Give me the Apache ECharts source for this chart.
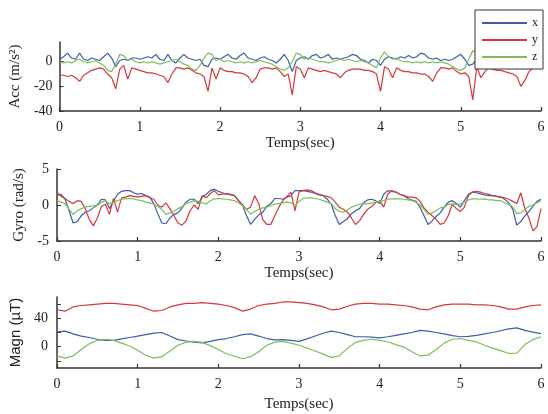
<!DOCTYPE html>
<html>
<head>
<meta charset="utf-8">
<script src="https://cdn.jsdelivr.net/npm/echarts@6/dist/echarts.min.js"></script>
<style>html,body{margin:0;padding:0;background:#fff}#c{width:548px;height:414px}</style>
</head>
<body>
<div id="c"></div>
<script>
// ---- data ----
const xTicks = [0, 1, 2, 3, 4, 5, 6];
const accTicks = [-40, -20, 0];
const gyroTicks = [-5, 0, 5];
const magnTicks = [-20, 0, 20, 40, 60];
const magnLabels = [0, 40];
const seriesNames = ['x', 'y', 'z'];

// sampling steps (seconds)
const fastStep = 0.05; // acc & gyro
const slowStep = 0.1;  // magn

const accX = [2,4,7,3,2,7,2,1,3,2,1,4,7,3,-4,1,2,1,3,3,2,3,4,3,6,2,1,6,1,-1,3,6,3,2,1,2,-3,-4,2,3,2,4,6,3,2,5,7,3,2,1,3,4,2,1,-1,2,6,1,-8,1,3,4,2,5,6,3,4,6,2,3,2,3,4,6,5,2,1,-1,2,1,-3,2,4,3,2,4,3,5,3,4,7,6,3,2,3,1,2,1,2,4,6,2,-3,-2,2,3,5,2,4,3,5,2,3,4,2,1,3,4,2,3,2];
const accY = [-10.6,-11,-12,-11,-13,-16,-11,-9,-7,-6,-5,-6,-10,-13,-22,-6,-3,-14,-5,-6,-7,-8,-9,-9,-10,-11,-12,-17,-10,-5,-5,-6,-5,-7,-9,-10,-12,-24,-5,-14,-5,-7,-8,-8,-9,-9,-10,-12,-17,-13,-6,-5,-5,-6,-5,-8,-12,-10,-27,-4,-6,-13,-5,-6,-7,-8,-7,-8,-9,-10,-13,-9,-7,-6,-6,-6,-7,-7,-8,-10,-24,-4,-6,-13,-5,-7,-8,-8,-9,-9,-10,-10,-12,-16,-9,-5,-5,-6,-5,-8,-10,-9,-12,-31,-4,-13,-8,-5,-6,-7,-7,-8,-9,-10,-12,-20,-15,-8,-5,-4,-3];
const accZ = [0,-1,0,-1,1,2,0,-1,0,1,-1,-3,-7,-8,-2,6,5,1,2,0,-1,0,-1,0,-1,-2,-1,0,1,2,0,-2,-3,-6,-7,-3,3,7,6,1,2,0,1,0,-1,0,-1,0,-1,0,1,0,-1,-2,-4,-6,-7,-5,0,7,6,2,3,2,1,0,0,-1,0,1,2,1,2,1,0,1,0,-1,-3,-5,3,8,4,2,3,1,0,0,-1,0,-1,0,-1,0,-1,0,-1,-2,-4,-6,-7,-5,2,9,6,2,1,0,1,0,-1,0,-1,-2,-3,-1,0,1,0,1,0];

const gyroX = [1.3,1.5,0.8,-0.8,-2.5,-2.3,-1.5,-1.0,-0.8,-0.4,0,0.8,0.7,-0.5,0.5,1.5,1.9,2.0,2.0,1.7,1.5,1.6,1.3,1.1,0.2,-1.2,-2.5,-2.6,-1.8,-1.3,-1.1,-0.4,0.4,0.8,0.8,0.2,1.1,1.5,2.0,2.2,1.9,1.7,1.5,1.5,1.3,0.6,0,-1.5,-2.7,-2.0,-1.4,-1.0,-0.2,0.2,0.9,0.9,0.8,1.1,1.3,2.0,2.0,2.0,1.9,1.8,1.6,1.4,1.3,0.8,0.1,-1.5,-2.7,-2.3,-1.9,-1.2,-0.8,-0.5,0.3,0.7,0.8,0.6,0.2,1.5,2.0,1.9,1.8,1.5,1.3,0.9,0.7,0.5,-0.3,-1.5,-2.7,-2.2,-1.6,-1.1,-0.3,0.4,0.6,0.2,-0.3,0.6,1.5,1.8,1.7,1.55,1.4,1.3,1.3,1.2,1.1,0.8,0.3,-0.6,-2.8,-2.3,-1.5,-0.9,-0.2,0.5,0.8];
const gyroY = [1.8,1.2,0.9,0.5,0.2,0.6,0.5,-0.5,-2.0,-2.9,-1.8,-0.2,0.1,-1.3,0.9,-1.0,1.0,1.1,1.3,1.2,1.1,1.2,1.3,1.0,0.8,0,-0.3,0.3,-0.5,-1.5,-2.5,-2.8,-2.2,-0.8,0,-0.6,1.3,1.0,1.6,2.0,1.4,1.5,1.6,1.4,1.3,0.6,0,-0.6,-0.3,1.3,0.2,-2.0,-2.7,-2.7,-1.5,-0.3,0.6,1.2,1.8,-0.8,1.8,2.0,2.1,2.0,1.7,1.5,1.3,1.2,1.0,0.4,-0.3,-0.6,-1.0,-1.8,-2.7,-2.2,-1.3,-0.6,-0.2,0.3,0.6,-0.3,1.5,2.0,1.8,1.5,1.3,1.1,1.1,1.0,0.5,-0.4,-1.0,-1.5,-2.0,-2.7,-2.5,-1.5,0.1,-0.5,-0.9,-0.3,1.3,1.8,1.9,1.8,1.6,1.5,1.3,1.2,1.1,1.0,0.8,0.5,0.2,1.7,-0.5,-1.8,-3.6,-3.0,-0.5];
const gyroZ = [0.6,0.4,0.2,-0.6,-1.3,-0.8,-0.5,-0.3,-0.2,-0.1,-0.1,0.4,0.6,0.15,0.4,0.6,0.8,0.85,0.9,0.85,0.7,0.6,0.4,0.3,0.1,-0.2,-0.6,-1.3,-1.1,-0.9,-0.5,-0.2,0.2,0.4,0.6,0.5,0.3,0.15,0.6,0.85,0.9,0.85,0.8,0.7,0.6,0.3,-0.1,-0.6,-1.3,-0.9,-0.6,-0.4,-0.3,-0.1,0.1,0.2,0.3,0.4,0.3,-0.1,0.5,0.9,1.0,1.0,0.9,0.8,0.6,0.4,0.2,-0.5,-0.9,-1.0,-0.7,-0.3,-0.1,0.1,0.2,0.15,0.3,0.4,0.5,0.6,0.8,0.85,0.85,0.85,0.8,0.7,0.6,0.4,0,-0.6,-1.3,-1.1,-0.8,-0.4,-0.3,0.1,0.15,0.1,0.15,0.4,0.7,0.85,0.85,0.8,0.85,0.7,0.7,0.6,0.6,0.3,0.1,-0.3,-1.2,-1.1,-0.6,-0.2,0,0.3,0.6];

const magnX = [21,22,18,15,13,10.5,9,9,11,13,15,17,19,20,15,10,8,6.5,5.5,7.5,10,11.5,14,17,18,15,11.5,9.5,10,9,7.6,11,15,19,22,20,17,14,14,13.5,12.5,14,16,18,20,23,22,20,18,15.5,14,14.5,16,18,20,22.5,25,26.5,23,20.5,18.5];
const magnY = [52,50,56,58,59,60,61,61,60,59,58,54,50,51,56,59,61,61,62,61,60,58,55,50,53,58,60,61,63,63,62,61,59,56,52,53,57,60,61,61,60,60,59,58,56,53,52,56,59,60,60,60,59,59,58,56,53,53,56,58,59];
const magnZ = [-13,-16,-13,-4,4,9,10.5,9,5,1,-5,-12,-16,-14,-6,2,6.5,7.6,6,1.5,-4,-10,-13.5,-17,-14,-7,2,6.5,7.6,5,2,-2,-6,-10.5,-15,-13,-2,6,9,10.5,9,7,3,-0.5,-7,-13,-12,-4,5,10.5,11.5,9,6.7,2,-2,-5.5,-9.5,-9,3,10,14];

// ---- chart ----
const colors = ['#3d5ea8', '#d5383c', '#7cbf58'];
const serif = "'Liberation Serif','Times New Roman',serif";
const sans = "'Liberation Sans',Arial,sans-serif";

function pairs(step, arr) {
  return arr.map((v, i) => [+(i * step).toFixed(2), v]);
}

const grids = [
  {left: 57, right: 7, top: 42, height: 69},
  {left: 57, right: 7, top: 169, height: 72},
  {left: 57, right: 7, top: 297, height: 71}
];

const axisLineStyle = {show: true, onZero: false, lineStyle: {color: '#333', width: 1.5}};

const xAxes = grids.map((g, i) => ({
  gridIndex: i, type: 'value', min: 0, max: 6, interval: 1,
  name: 'Temps(sec)', nameLocation: 'middle', nameGap: i === 2 ? 29 : 25,
  nameTextStyle: {fontFamily: serif, fontSize: 15, color: '#222'},
  axisLine: axisLineStyle,
  axisTick: {show: true, inside: true, length: 4, lineStyle: {color: '#333', width: 1.2}, customValues: xTicks},
  axisLabel: {fontFamily: serif, fontSize: 14, color: '#222', margin: 9, customValues: xTicks},
  splitLine: {show: false}
}));

const yAxes = [
  {gridIndex: 0, type: 'value', min: -40, max: 16,
   name: 'Acc (m/s²)', nameRotate: 90, nameLocation: 'middle', nameGap: 28,
   nameTextStyle: {fontFamily: serif, fontSize: 15, color: '#222'},
   axisLine: axisLineStyle,
   axisTick: {show: true, inside: true, length: 4, lineStyle: {color: '#333'}, customValues: accTicks},
   axisLabel: {fontFamily: serif, fontSize: 14, color: '#222', margin: 7, customValues: accTicks},
   splitLine: {show: false}},
  {gridIndex: 1, type: 'value', min: -5, max: 5,
   name: 'Gyro (rad/s)', nameRotate: 90, nameLocation: 'middle', nameGap: 17,
   nameTextStyle: {fontFamily: serif, fontSize: 15, color: '#222'},
   axisLine: axisLineStyle,
   axisTick: {show: true, inside: true, length: 4, lineStyle: {color: '#333'}, customValues: gyroTicks},
   axisLabel: {fontFamily: serif, fontSize: 14, color: '#222', margin: 8, customValues: gyroTicks},
   splitLine: {show: false}},
  {gridIndex: 2, type: 'value', min: -30, max: 70,
   name: 'Magn (µT)', nameRotate: 90, nameLocation: 'middle', nameGap: 22,
   nameTextStyle: {fontFamily: sans, fontSize: 15, color: '#222'},
   axisLine: axisLineStyle,
   axisTick: {show: true, inside: true, length: 4, lineStyle: {color: '#333'}, customValues: magnTicks},
   axisLabel: {fontFamily: serif, fontSize: 14, color: '#222', margin: 9, customValues: magnLabels},
   splitLine: {show: false}}
];

const panels = [
  {step: fastStep, data: [accX, accY, accZ]},
  {step: fastStep, data: [gyroX, gyroY, gyroZ]},
  {step: slowStep, data: [magnX, magnY, magnZ]}
];

const series = [];
panels.forEach((p, gi) => {
  p.data.forEach((arr, k) => {
    series.push({
      name: seriesNames[k], type: 'line', xAxisIndex: gi, yAxisIndex: gi,
      data: pairs(p.step, arr), showSymbol: false, symbol: 'none',
      lineStyle: {color: colors[k], width: 1.2}, itemStyle: {color: colors[k]},
      z: 2
    });
  });
});

const chart = echarts.init(document.getElementById('c'), null, {renderer: 'canvas'});
chart.setOption({
  animation: false,
  backgroundColor: '#fff',
  color: colors,
  grid: grids,
  xAxis: xAxes,
  yAxis: yAxes,
  legend: {
    data: seriesNames, orient: 'vertical', right: 5, top: 10,
    backgroundColor: '#fff', borderColor: '#333', borderWidth: 1,
    padding: [7, 5, 6, 7], itemWidth: 45, itemHeight: 2, itemGap: 5, icon: 'rect',
    textStyle: {fontFamily: serif, fontSize: 12, color: '#222'},
    z: 10
  },
  series: series
});
</script>
</body>
</html>
